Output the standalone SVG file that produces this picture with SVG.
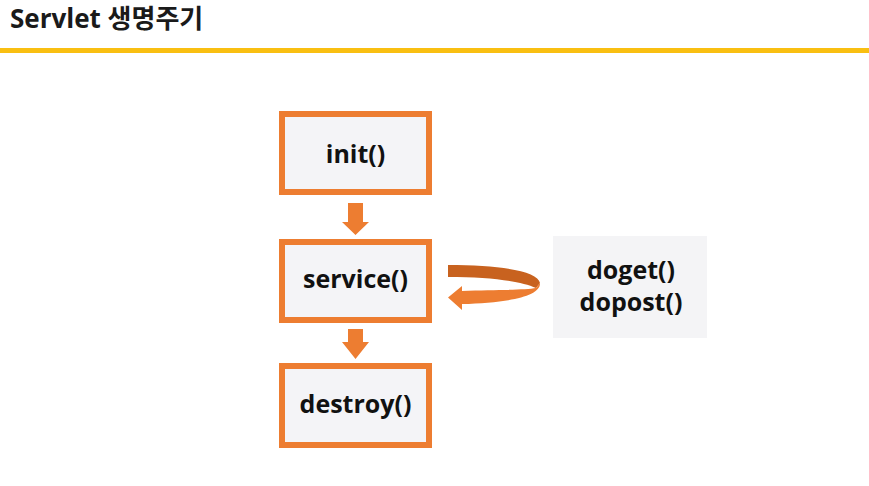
<svg xmlns="http://www.w3.org/2000/svg" width="869" height="486" viewBox="0 0 869 486">
<style>
.box{fill:#f4f4f7;stroke:#ed7d31;stroke-width:6}
.lbl{font-family:"Open Sans","Noto Sans CJK KR",sans-serif;font-weight:bold;font-size:25px;fill:#111;text-anchor:middle}
.arr{fill:#ed7d31}
</style>
<rect width="869" height="486" fill="#ffffff"/>
<g id="title">
<text x="10" y="28" font-family="'Open Sans','Noto Sans CJK KR',sans-serif" font-weight="bold" font-size="26" fill="#1a1a1a">Servlet 생명주기</text>
<rect x="0" y="48" width="869" height="5" fill="#f9bf11"/>
</g>
<g id="init"><rect class="box" x="282" y="114" width="147" height="78"/><text class="lbl" x="355.5" y="163">init()</text></g>
<g id="service"><rect class="box" x="282" y="242" width="147" height="78"/><text class="lbl" x="355.5" y="288">service()</text></g>
<g id="destroy"><rect class="box" x="282" y="366" width="147" height="79"/><text class="lbl" x="355.5" y="413">destroy()</text></g>
<g id="methods"><rect x="553" y="236" width="154" height="102" fill="#f4f4f6"/><text class="lbl" x="631" y="279" font-size="24">doget()</text><text class="lbl" x="631" y="311" font-size="24">dopost()</text></g>
<g id="connectors">
<path class="arr" d="M348,203 H363 V222 H369 L355.5,235 L342,222 H348 Z"/>
<path class="arr" d="M348,329 H363 V342 H369 L355.5,359 L342,342 H348 Z"/>
<path fill="#c8621f" d="M448,265 C500,265 538,271 540,283 L536,288 C520,281 490,277 448,277 Z"/>
<path class="arr" d="M540,283 C541,297 505,303 462,304 L462,310 L448,297.5 L462,286 L462,291 C495,290 525,290 536,288 Z"/>
</g>
</svg>
